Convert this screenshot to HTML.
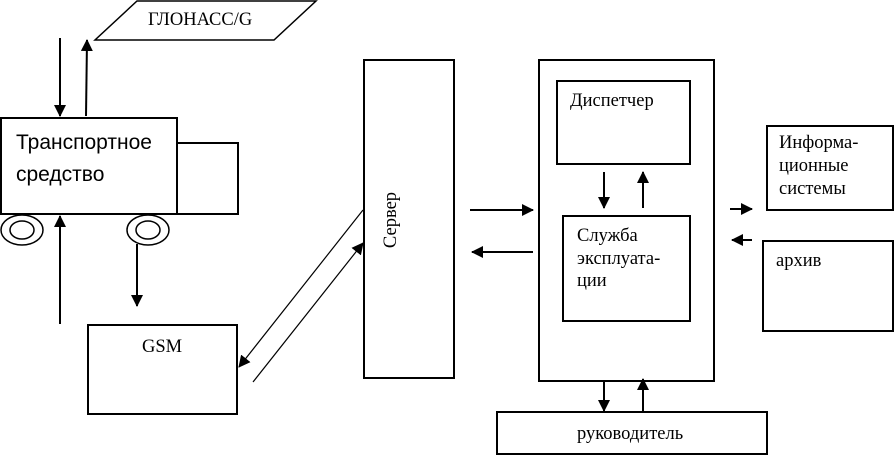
<!DOCTYPE html>
<html><head><meta charset="utf-8"><style>
body{margin:0;background:#fff}
svg{display:block}
.s{font-family:"Liberation Serif",serif;font-size:18.5px}
.a{font-family:"Liberation Sans",sans-serif;font-size:21px}
</style></head><body>
<svg width="894" height="457" viewBox="0 0 894 457" xmlns="http://www.w3.org/2000/svg">
<defs><marker id="m" markerWidth="12" markerHeight="12" refX="11" refY="6" orient="auto" markerUnits="userSpaceOnUse"><path d="M0,0 L12,6 L0,12 z" fill="#000"/></marker></defs>
<g fill="none" stroke="#000" stroke-width="2">
<polygon points="137,1 316,1 274,40 95,40" stroke-width="1.5"/>
<rect x="1" y="118" width="176" height="96"/>
<polyline points="177,143 238,143 238,214 177,214"/>
<ellipse cx="22" cy="230" rx="21" ry="15" stroke-width="1.5"/>
<ellipse cx="22" cy="230" rx="12" ry="9" stroke-width="1.5"/>
<ellipse cx="148" cy="230" rx="21" ry="15" stroke-width="1.5"/>
<ellipse cx="148" cy="230" rx="12" ry="9" stroke-width="1.5"/>
<rect x="88" y="325" width="149" height="89"/>
<rect x="364" y="60" width="90" height="318"/>
<rect x="539" y="60" width="175" height="321"/>
<rect x="557" y="81" width="133" height="83"/>
<rect x="563" y="216" width="127" height="105"/>
<rect x="767" y="126" width="126" height="84"/>
<rect x="763" y="241" width="130" height="90"/>
<rect x="497" y="412" width="270" height="42"/>
</g>
<g stroke="#000" stroke-width="2" marker-end="url(#m)">
<line x1="60" y1="38" x2="60" y2="116"/>
<line x1="86" y1="116" x2="87" y2="40"/>
<line x1="60" y1="324" x2="60" y2="216"/>
<line x1="137" y1="244" x2="137" y2="306"/>
<line x1="363" y1="210" x2="239" y2="367" stroke-width="1.2"/>
<line x1="253" y1="382" x2="363" y2="243" stroke-width="1.2"/>
<line x1="470" y1="210" x2="533" y2="210"/>
<line x1="533" y1="252" x2="472" y2="252"/>
<line x1="604" y1="172" x2="604" y2="208"/>
<line x1="643" y1="208" x2="643" y2="172"/>
<line x1="730" y1="209" x2="752" y2="209"/>
<line x1="752" y1="240" x2="732" y2="240"/>
<line x1="604" y1="381" x2="604" y2="411"/>
<line x1="643" y1="411" x2="643" y2="379"/>
</g>
<text class="s" x="148" y="25">ГЛОНАСС/G</text>
<text class="a" x="16" y="149">Транспортное</text>
<text class="a" x="16" y="181">средство</text>
<text class="s" x="142" y="352">GSM</text>
<text class="s" transform="translate(396,220) rotate(-90)" text-anchor="middle">Сервер</text>
<text class="s" x="570" y="106">Диспетчер</text>
<text class="s" x="577" y="241">Служба</text>
<text class="s" x="577" y="264">эксплуата-</text>
<text class="s" x="577" y="286">ции</text>
<text class="s" x="779" y="148">Информа-</text>
<text class="s" x="779" y="171">ционные</text>
<text class="s" x="779" y="194">системы</text>
<text class="s" x="776" y="266">архив</text>
<text class="s" x="577" y="439">руководитель</text>
</svg>
</body></html>
